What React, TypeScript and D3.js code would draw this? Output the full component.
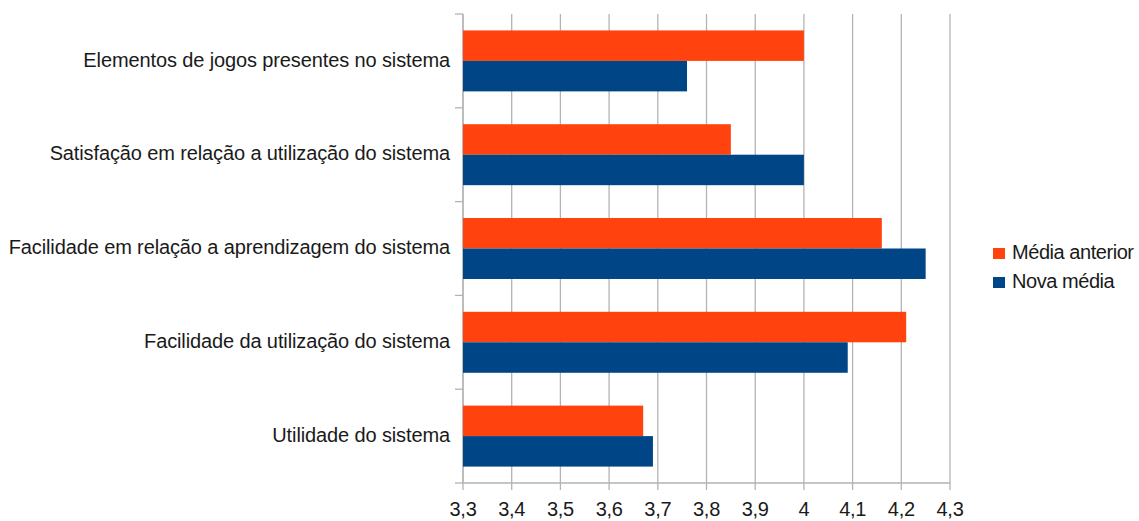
import React from "react";
import * as d3 from "d3";

const categories = [
  "Elementos de jogos presentes no sistema",
  "Satisfação em relação a utilização do sistema",
  "Facilidade em relação a aprendizagem do sistema",
  "Facilidade da utilização do sistema",
  "Utilidade do sistema",
];
const mediaAnterior = [4.0, 3.85, 4.16, 4.21, 3.67];
const novaMedia = [3.76, 4.0, 4.25, 4.09, 3.69];
const seriesNames = ["Média anterior", "Nova média"];
const xTicks = [3.3, 3.4, 3.5, 3.6, 3.7, 3.8, 3.9, 4.0, 4.1, 4.2, 4.3];

const colors = ["#ff420e", "#004586"];

export default function App() {
  const W = 1139, H = 521;
  const left = 463, right = 950, top = 14, bottom = 483;
  const x = d3.scaleLinear().domain([3.3, 4.3]).range([left, right]);
  const y = d3.scaleBand().domain(categories).range([top, bottom]).paddingInner(0.35).paddingOuter(0.175);
  const bh = y.bandwidth() / 2;
  const fmt = (v: number) => d3.format(".1f")(v).replace(".0", "").replace(".", ",");
  const edges = d3.range(categories.length + 1).map((i) => top + (i * (bottom - top)) / categories.length);
  const font = "'Liberation Sans', Arial, sans-serif";
  const txt = "#1a1a1a";
  return (
    <svg width={W} height={H} style={{ position: "absolute", left: 0, top: 0, background: "#fff" }} fontFamily={font}>
      {xTicks.map((t) => (
        <line key={"g" + t} x1={x(t)} x2={x(t)} y1={top} y2={bottom + 7} stroke="#b3b3b3" strokeWidth={1.3} />
      ))}
      {edges.map((e, i) => (
        <line key={"e" + i} x1={left - 8} x2={left} y1={e} y2={e} stroke="#b3b3b3" strokeWidth={1.3} />
      ))}
      <line x1={left} x2={left} y1={top} y2={bottom} stroke="#b3b3b3" strokeWidth={1.3} />
      <line x1={left} x2={right} y1={bottom} y2={bottom} stroke="#b3b3b3" strokeWidth={1.3} />
      {categories.map((c, i) => (
        <g key={c}>
          <rect x={x(3.3)} y={y(c)!} width={x(mediaAnterior[i]) - x(3.3)} height={bh} fill={colors[0]} />
          <rect x={x(3.3)} y={y(c)! + bh} width={x(novaMedia[i]) - x(3.3)} height={bh} fill={colors[1]} />
          <text x={450} y={y(c)! + bh} dy="0.28em" textAnchor="end" fontSize={20} letterSpacing={-0.12} fill={txt}>{c}</text>
        </g>
      ))}
      {xTicks.map((t) => (
        <text key={"t" + t} x={x(t)} y={516} textAnchor="middle" fontSize={20} letterSpacing={-0.3} fill={txt}>{fmt(t)}</text>
      ))}
      {seriesNames.map((s, i) => (
        <g key={s}>
          <rect x={993} y={248 + i * 29} width={12} height={11} fill={colors[i]} />
          <text x={1012} y={259 + i * 29} fontSize={20} letterSpacing={-0.45} fill={txt}>{s}</text>
        </g>
      ))}
    </svg>
  );
}
